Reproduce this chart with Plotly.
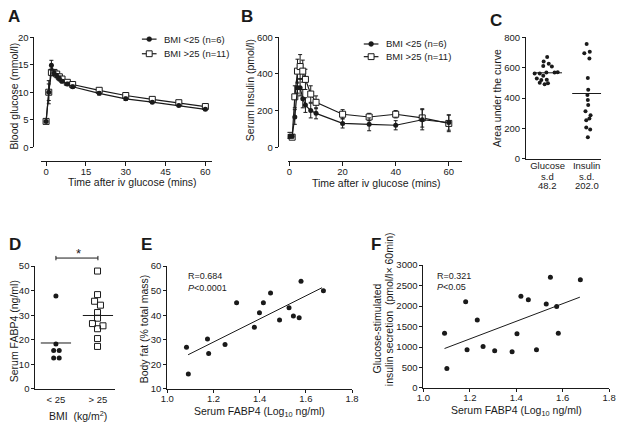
import plotly.graph_objects as go

# ---------------- data ----------------
time_min = [0, 1, 2, 3, 4, 5, 6, 8, 10, 20, 30, 40, 50, 60]

glu_lean = [4.7, 10.0, 14.9, 13.5, 13.0, 12.5, 12.0, 11.5, 11.0, 9.8, 8.8, 8.2, 7.6, 6.9]
glu_lean_err = [0.2, 2.1, 0.9, 0.5, 0.4, 0.4, 0.3, 0.3, 0.3, 0.3, 0.3, 0.2, 0.2, 0.2]
glu_over = [4.7, 10.0, 13.6, 13.6, 13.3, 12.8, 12.4, 11.8, 11.4, 10.35, 9.4, 8.7, 8.1, 7.4]
glu_over_err = [0.2, 1.5, 0.6, 0.5, 0.4, 0.4, 0.3, 0.3, 0.3, 0.3, 0.3, 0.2, 0.2, 0.2]

ins_lean = [60, 60, 165, 325, 325, 265, 230, 200, 185, 130, 125, 120, 150, 135]
ins_lean_err = [10, 10, 40, 30, 45, 50, 40, 40, 30, 25, 35, 25, 55, 42]
ins_over = [65, 55, 275, 415, 440, 415, 370, 290, 245, 180, 165, 180, 160, 130]
ins_over_err = [15, 10, 60, 65, 65, 60, 55, 45, 35, 25, 20, 20, 50, 45]

legend_labels = ["BMI &lt;25 (n=6)", "BMI &gt;25 (n=11)"]

auc_categories = ["Glucose", "Insulin"]
auc_sd_titles = ["s.d", "s.d."]
auc_sd_labels = ["48.2", "202.0"]
auc_glucose = [670, 640, 625, 610, 608, 562, 562, 568, 568, 570, 547, 528, 519, 521, 500, 491, 498]
auc_glucose_jitter = [-0.01, -0.10, 0.03, -0.11, 0.11, -0.33, -0.20, -0.03, 0.18, 0.26,
                      -0.11, -0.275, -0.16, -0.02, -0.20, -0.075, 0.01]
auc_glucose_median = 566
auc_insulin = [755, 704, 694, 660, 532, 455, 420, 387, 355, 313, 287, 266, 255, 206, 194, 143]
auc_insulin_jitter = [0.0, 0.08, -0.06, 0.07, 0.03, 0.04, 0.02, 0.03, 0.04, -0.03, 0.10,
                      0.07, -0.01, -0.01, 0.09, 0.03]
auc_insulin_median = 430

bmi_categories = ["&lt; 25", "&gt; 25"]
fabp4_lean = [37.8, 18.3, 15.6, 15.6, 12.6, 12.6]
fabp4_lean_jitter = [0.0, 0.0, -0.054, 0.078, -0.054, 0.078]
fabp4_lean_median = 18.7
fabp4_over = [48.0, 38.4, 35.7, 34.1, 31.1, 28.8, 26.6, 25.7, 24.5, 20.5, 17.3]
fabp4_over_jitter = [-0.01, -0.01, -0.08, 0.06, -0.01, -0.01, -0.13, 0.12, -0.01, -0.01, -0.01]
fabp4_over_median = 29.9

log_fabp4 = [1.083, 1.091, 1.174, 1.179, 1.25, 1.30, 1.377, 1.399, 1.416, 1.447,
             1.486, 1.527, 1.546, 1.571, 1.579, 1.676]
body_fat = [27.0, 16.1, 30.3, 24.4, 28.1, 45.1, 35.1, 41.0, 45.1, 49.1,
            38.1, 43.1, 39.7, 39.0, 53.8, 50.0]
fat_fit_x = [1.09, 1.67]
fat_fit_y = [23.9, 51.2]

log_fabp4_f = [1.091, 1.101, 1.182, 1.188, 1.232, 1.257, 1.307, 1.382, 1.403, 1.420,
               1.452, 1.487, 1.529, 1.547, 1.574, 1.581, 1.676]
gsis = [1334, 474, 2107, 931, 1658, 1010, 908, 884, 1326, 2241,
        2155, 931, 2052, 2707, 1989, 1334, 2644]
gsis_fit_x = [1.091, 1.674]
gsis_fit_y = [963, 2218]

# ---------------- layout helpers ----------------
W, H = 622, 428
FONT = "Liberation Sans, Arial, Helvetica, sans-serif"
INK = "#1a1a1a"


def px_x(p):
    return p / W


def px_y(p):
    return 1 - p / H


def axis(**kw):
    d = dict(showline=True, linecolor=INK, linewidth=1, showgrid=False, zeroline=False,
             ticks="outside", ticklen=4, tickwidth=1, tickcolor=INK,
             tickfont=dict(size=9.5, color=INK, family=FONT), fixedrange=True)
    d.update(kw)
    return d


def ann(text, x, y, size=10.5, angle=0, xanchor="center", yanchor="middle"):
    return dict(text=text, x=px_x(x), y=px_y(y), xref="paper", yref="paper",
                showarrow=False, textangle=angle, xanchor=xanchor, yanchor=yanchor,
                font=dict(size=size, color=INK, family=FONT))


def err(arr):
    return dict(type="data", array=arr, color=INK, thickness=1, width=2)


def pline(x0, y0, x1, y1, w=1):
    return dict(type="line", xref="paper", yref="paper", x0=px_x(x0), x1=px_x(x1),
                y0=px_y(y0), y1=px_y(y1), line=dict(color=INK, width=w))


fig = go.Figure()

# ---------------- Panels A & B ----------------
for xa, ya, lean, lean_e, over, over_e in [
    ("x", "y", glu_lean, glu_lean_err, glu_over, glu_over_err),
    ("x2", "y2", ins_lean, ins_lean_err, ins_over, ins_over_err),
]:
    fig.add_trace(go.Scatter(
        x=time_min, y=over, error_y=err(over_e), mode="lines+markers",
        line=dict(color=INK, width=1.2),
        marker=dict(symbol="square", size=6, color="white", line=dict(color=INK, width=1)),
        name=legend_labels[1], xaxis=xa, yaxis=ya, showlegend=False))
    fig.add_trace(go.Scatter(
        x=time_min, y=lean, error_y=err(lean_e), mode="lines+markers",
        line=dict(color=INK, width=1.2),
        marker=dict(symbol="circle", size=5, color=INK),
        name=legend_labels[0], xaxis=xa, yaxis=ya, showlegend=False))

# ---------------- Panel C ----------------
fig.add_trace(go.Scatter(
    x=[0 + j for j in auc_glucose_jitter], y=auc_glucose, mode="markers",
    marker=dict(size=4, color=INK), xaxis="x3", yaxis="y3", showlegend=False))
fig.add_trace(go.Scatter(
    x=[1 + j for j in auc_insulin_jitter], y=auc_insulin, mode="markers",
    marker=dict(size=4, color=INK), xaxis="x3", yaxis="y3", showlegend=False))
for c, med in [(0, auc_glucose_median), (1, auc_insulin_median)]:
    fig.add_trace(go.Scatter(x=[c - 0.37, c + 0.37], y=[med, med], mode="lines",
                             line=dict(color=INK, width=1), xaxis="x3", yaxis="y3",
                             showlegend=False))

# ---------------- Panel D ----------------
fig.add_trace(go.Scatter(
    x=[0 + j for j in fabp4_lean_jitter], y=fabp4_lean, mode="markers",
    marker=dict(size=5, color=INK), xaxis="x4", yaxis="y4", showlegend=False))
fig.add_trace(go.Scatter(
    x=[1 + j for j in fabp4_over_jitter], y=fabp4_over, mode="markers",
    marker=dict(symbol="square-open", size=6, color=INK, line=dict(width=1)),
    xaxis="x4", yaxis="y4", showlegend=False))
for c, med in [(0, fabp4_lean_median), (1, fabp4_over_median)]:
    fig.add_trace(go.Scatter(x=[c - 0.36, c + 0.36], y=[med, med], mode="lines",
                             line=dict(color=INK, width=1), xaxis="x4", yaxis="y4",
                             showlegend=False))

# ---------------- Panel E ----------------
fig.add_trace(go.Scatter(x=log_fabp4, y=body_fat, mode="markers",
                         marker=dict(size=5, color=INK), xaxis="x5", yaxis="y5",
                         showlegend=False))
fig.add_trace(go.Scatter(x=fat_fit_x, y=fat_fit_y, mode="lines",
                         line=dict(color=INK, width=1), xaxis="x5", yaxis="y5",
                         showlegend=False))

# ---------------- Panel F ----------------
fig.add_trace(go.Scatter(x=log_fabp4_f, y=gsis, mode="markers",
                         marker=dict(size=5, color=INK), xaxis="x6", yaxis="y6",
                         showlegend=False))
fig.add_trace(go.Scatter(x=gsis_fit_x, y=gsis_fit_y, mode="lines",
                         line=dict(color=INK, width=1), xaxis="x6", yaxis="y6",
                         showlegend=False))

# ---------------- axes ----------------
D_X0, D_X1, D_R0, D_R1 = 29, 110, -0.49, 1.395


def d_px(c):
    return D_X0 + (c - D_R0) / (D_R1 - D_R0) * (D_X1 - D_X0)


fab_ticks = [1.0, 1.2, 1.4, 1.6, 1.8]

fig.update_layout(
    width=W, height=H, margin=dict(l=0, r=0, t=0, b=0),
    paper_bgcolor="white", plot_bgcolor="white", showlegend=False,
    font=dict(family=FONT, color=INK),
    xaxis=axis(domain=[px_x(35), px_x(210)], range=[-1.84, 62.6], anchor="free",
               position=px_y(159), tickvals=[0, 15, 30, 45, 60], ticklabelstandoff=-2),
    yaxis=axis(domain=[px_y(145), px_y(32)], range=[0, 20], anchor="free",
               position=px_x(27), tickvals=[0, 5, 10, 15, 20], ticklen=3),
    xaxis2=axis(domain=[px_x(287), px_x(465)], range=[-0.74, 64.8], anchor="free",
                position=px_y(159), tickvals=[0, 20, 40, 60], ticklabelstandoff=-2),
    yaxis2=axis(domain=[px_y(145), px_y(32)], range=[0, 600], anchor="free",
                position=px_x(277), tickvals=[0, 200, 400, 600], ticklen=3),
    xaxis3=axis(domain=[px_x(531), px_x(608)], range=[-0.55, 1.375], anchor="y3",
                tickvals=[0, 1], ticktext=auc_categories, ticks="", ticklabelstandoff=-2),
    yaxis3=axis(domain=[px_y(157), px_y(32)], range=[0, 800], anchor="x3",
                tickvals=[0, 200, 400, 600, 800], ticklen=3),
    xaxis4=axis(domain=[px_x(D_X0), px_x(D_X1)], range=[D_R0, D_R1], anchor="y4",
                tickvals=[0, 1], ticktext=bmi_categories, ticks="", ticklabelstandoff=2),
    yaxis4=axis(domain=[px_y(393), px_y(267)], range=[0, 50], anchor="x4",
                tickvals=[0, 10, 20, 30, 40, 50], ticklen=3),
    xaxis5=axis(domain=[px_x(164), px_x(353)], range=[1.0, 1.8], anchor="y5",
                tickvals=fab_ticks, tickformat=".1f", ticklen=3, ticklabelstandoff=-2),
    yaxis5=axis(domain=[px_y(393), px_y(267)], range=[10, 60], anchor="x5",
                tickvals=[10, 20, 30, 40, 50, 60], ticklen=3),
    xaxis6=axis(domain=[px_x(426), px_x(616)], range=[1.0, 1.8], anchor="y6",
                tickvals=fab_ticks, tickformat=".1f", ticklen=3, ticklabelstandoff=-2),
    yaxis6=axis(domain=[px_y(392), px_y(266)], range=[0, 3000], anchor="x6",
                tickvals=[0, 500, 1000, 1500, 2000, 2500, 3000], ticklen=3),
)

shapes = []
# significance bracket in panel D
br_y, br_lo, br_hi = 258.7, 256.5, 261.0
shapes += [pline(d_px(0), br_y, d_px(1), br_y),
           pline(d_px(0), br_lo, d_px(0), br_hi),
           pline(d_px(1), br_lo, d_px(1), br_hi)]

# hand-drawn legends for panels A and B (short sample lines, tight rows)
annotations = []
for lx, rows in [(138, (34, 49)), (365, (39, 52))]:
    cx = lx + 7.5
    r_lean, r_over = rows
    shapes.append(pline(lx, r_lean, lx + 15, r_lean, 1.2))
    shapes.append(dict(type="circle", xref="paper", yref="paper",
                       x0=px_x(cx - 2.5), x1=px_x(cx + 2.5),
                       y0=px_y(r_lean - 2.5), y1=px_y(r_lean + 2.5),
                       fillcolor=INK, line=dict(color=INK, width=0.5)))
    shapes.append(pline(lx, r_over, lx + 15, r_over, 1.2))
    shapes.append(dict(type="rect", xref="paper", yref="paper",
                       x0=px_x(cx - 3), x1=px_x(cx + 3),
                       y0=px_y(r_over - 3), y1=px_y(r_over + 3),
                       fillcolor="white", line=dict(color=INK, width=1)))
    annotations.append(ann(legend_labels[0], lx + 21, r_lean, size=9.5, xanchor="left"))
    annotations.append(ann(legend_labels[1], lx + 21, r_over, size=9.5, xanchor="left"))
fig.update_layout(shapes=shapes)

annotations += [
    # panel letters
    ann("<b>A</b>", 7.5, 11, size=17), ann("<b>B</b>", 245.5, 11, size=17),
    ann("<b>C</b>", 500.5, 14.5, size=17), ann("<b>D</b>", 8, 244.5, size=17),
    ann("<b>E</b>", 142.5, 245, size=17), ann("<b>F</b>", 377.5, 245, size=17),
    # axis titles
    ann("Blood glucose (mmol/l)", 7, 92, angle=-90),
    ann("Time after iv glucose (mins)", 128.5, 181),
    ann("Serum Insulin (pmol/l)", 248, 86, angle=-90),
    ann("Time after iv glucose (mins)", 378, 182),
    ann("Area under the curve", 501, 95, angle=-90),
    ann("Serum FABP4 (ng/ml)", 8, 334, angle=-90),
    ann("BMI  (kg/m<sup>2</sup>)", 73, 420),
    ann("Body fat (% total mass)", 141, 331, angle=-90),
    ann("Serum FABP4 (Log<sub>10</sub> ng/ml)", 258.5, 417),
    ann("Glucose-stimulated", 379.5, 331, angle=-90),
    ann("insulin secretion  (pmol/l\u00d7 60min)", 391, 311, angle=-90),
    ann("Serum FABP4 (Log<sub>10</sub> ng/ml)", 521.5, 416),
    # stats
    ann("*", 73, 254, size=13),
    ann("R=0.684", 183, 277, size=9, xanchor="left"),
    ann("<i>P</i>&lt;0.0001", 183, 289, size=9, xanchor="left"),
    ann("R=0.321", 438, 277, size=9, xanchor="left"),
    ann("<i>P</i>&lt;0.05", 438, 288, size=9, xanchor="left"),
]
for i, lab in enumerate(auc_sd_labels):
    cx = 553 + 40 * i
    annotations.append(ann(auc_sd_titles[i], cx, 174.5, size=9.5))
    annotations.append(ann(lab, cx, 184.5, size=9.5))
fig.update_layout(annotations=annotations)

fig.write_html("out.html", config={"displayModeBar": False},
               post_script="document.body.style.margin='0px';")
